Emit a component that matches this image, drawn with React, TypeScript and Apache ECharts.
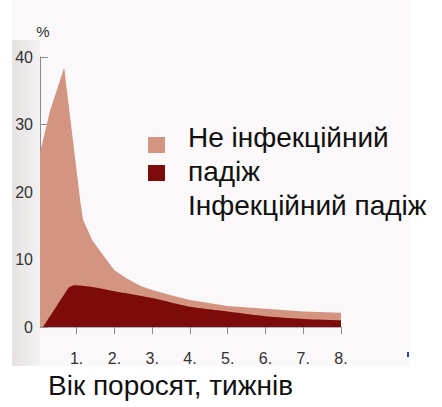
import React, { useEffect, useRef } from "react";
import * as echarts from "echarts";

// weeks (x) and percent (y)
const nonInfectiousTotal: [number, number][] = [
  [0.03, 0], [0.03, 25.8], [0.3, 32.1], [0.67, 38.4], [1.1, 18.5], [1.17, 15.9],
  [1.41, 12.9], [1.8, 9.9], [2.0, 8.4], [2.33, 7.2], [2.68, 6.1], [3, 5.5],
  [3.5, 4.7], [4, 4.0], [5, 3.1], [6, 2.7], [7, 2.3], [8, 2.1],
];
const infectious: [number, number][] = [
  [0.11, 0], [0.69, 5.0], [0.8, 5.9], [0.95, 6.2], [1.35, 6.0], [2, 5.3],
  [3, 4.3], [4, 3.0], [5, 2.3], [6, 1.6], [7, 1.2], [8, 1.0],
];
const weekTicks = [1, 2, 3, 4, 5, 6, 7, 8];
const yMax = 40;
const yStep = 10;
const legendNames = ["Не інфекційний\nпадіж", "Інфекційний падіж"];
const legendText = "Не інфекційний\nпадіж\nІнфекційний падіж";
const xTitle = "Вік поросят, тижнів";
const yTitle = "%";
const colors = ["#d39481", "#7d0b0b"];

const FONT = '"Liberation Sans", Arial, sans-serif';

export default function App() {
  const ref = useRef<HTMLDivElement>(null);
  useEffect(() => {
    if (!ref.current) return;
    const chart = echarts.init(ref.current, null, { renderer: "svg" });
    chart.setOption({
      animation: false,
      backgroundColor: "#ffffff",
      grid: { left: 40, right: 101, top: 57, bottom: 80 },
      xAxis: {
        type: "value",
        min: 0.03,
        max: 8,
        splitLine: { show: false },
        axisLine: { show: true, lineStyle: { color: "#b0b0b8", width: 1 } },
        axisTick: {
          show: true,
          customValues: weekTicks,
          length: 7,
          lineStyle: { color: "#8a8a90" },
        },
        axisLabel: {
          customValues: weekTicks,
          formatter: (v: number) => `${v}.`,
          margin: 23,
          color: "#333",
          fontSize: 16,
          fontFamily: FONT,
        },
      },
      yAxis: {
        type: "value",
        min: 0,
        max: yMax,
        interval: yStep,
        name: yTitle,
        nameGap: 18,
        nameTextStyle: { color: "#333", fontSize: 15, fontFamily: FONT, align: "center", padding: [0, 0, 0, 6] },
        splitLine: { show: false },
        axisLine: { show: true, lineStyle: { color: "#8a8a90", width: 1 } },
        axisTick: { show: true, inside: true, length: 8, lineStyle: { color: "#8a8a90" } },
        axisLabel: { color: "#333", fontSize: 16, margin: 7, fontFamily: FONT },
      },
      series: [
        {
          name: legendNames[0],
          type: "line",
          data: nonInfectiousTotal,
          showSymbol: false,
          lineStyle: { width: 0 },
          areaStyle: { color: colors[0], opacity: 1 },
          z: 2,
        },
        {
          name: legendNames[1],
          type: "line",
          data: infectious,
          smooth: 0.2,
          showSymbol: false,
          lineStyle: { width: 0 },
          areaStyle: { color: colors[1], opacity: 1 },
          z: 3,
        },
      ],
      graphic: [
        {
          type: "rect",
          z: -10,
          silent: true,
          shape: { x: 12, y: 0, width: 398, height: 366 },
          style: { fill: "#faf8f8" },
        },
        {
          type: "rect",
          z: -9,
          silent: true,
          shape: { x: 12, y: 40, width: 28, height: 326 },
          style: {
            fill: new echarts.graphic.LinearGradient(0, 0, 1, 0, [
              { offset: 0, color: "#e6e2e2" },
              { offset: 1, color: "#f3f1f1" },
            ]),
          },
        },
        {
          type: "rect",
          shape: { x: 148, y: 137, width: 17, height: 16 },
          style: { fill: colors[0] },
        },
        {
          type: "rect",
          shape: { x: 148, y: 165, width: 17, height: 16 },
          style: { fill: colors[1] },
        },
        {
          type: "text",
          x: 188,
          y: 120,
          style: {
            text: legendText,
            fill: "#111",
            fontSize: 28,
            lineHeight: 34,
            fontFamily: FONT,
            verticalAlign: "top",
          },
        },
        {
          type: "text",
          x: 48,
          y: 385,
          style: {
            text: xTitle,
            fill: "#111",
            fontSize: 28,
            fontFamily: FONT,
            verticalAlign: "middle",
          },
        },
        {
          type: "rect",
          shape: { x: 407, y: 352, width: 2, height: 5 },
          style: { fill: "#2a3fd0" },
        },
      ],
    });
    return () => chart.dispose();
  }, []);
  return <div ref={ref} style={{ position: "fixed", left: 0, top: 0, width: 442, height: 407 }} />;
}
